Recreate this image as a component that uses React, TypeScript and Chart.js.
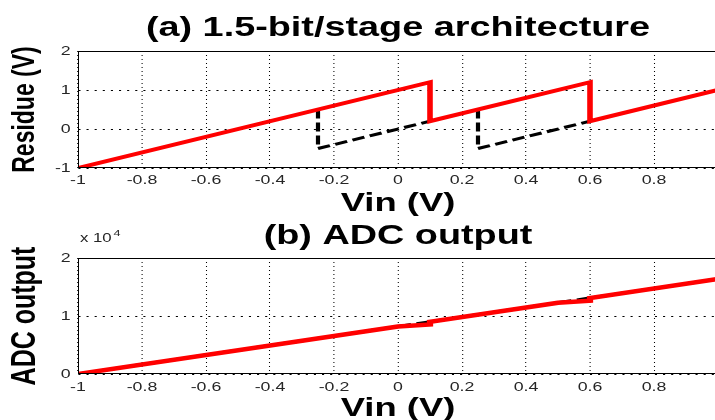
import React, { useEffect, useRef } from 'react';
import { Chart, registerables } from 'chart.js';

Chart.register(...registerables);

// ---------- data ----------
const xTickValues = [-1, -0.8, -0.6, -0.4, -0.2, 0, 0.2, 0.4, 0.6, 0.8, 1];
const xTickLabels = ['-1', '-0.8', '-0.6', '-0.4', '-0.2', '0', '0.2', '0.4', '0.6', '0.8', ''];

const residueYTickValues = [-1, 0, 1, 2];
const residueYTickLabels = ['-1', '0', '1', '2'];

// (a) red residue curve
const residueVin = [-1, 0.1, 0.1, 0.6, 0.6, 1];
const residueOut = [-1, 1.2, 0.2, 1.2, 0.2, 1];
// (a) black dashed residue segments
const altVinA = [-0.25, -0.25, 0.1];
const altOutA = [0.5, -0.5, 0.2];
const altVinB = [0.25, 0.25, 0.6];
const altOutB = [0.5, -0.5, 0.2];

const adcYTickValues = [0, 10000, 20000];
const adcYTickLabels = ['0', '1', '2'];
// (b) red ADC output
const adcVin = [-1, 0, 0.1, 0.1, 0.5, 0.6, 0.6, 1];
const adcCode = [0, 8192, 8550, 9011, 12288, 12650, 13107, 16384];
// (b) black ideal output
const idealVin = [-1, 1];
const idealCode = [0, 16384];

const exponentBase = 'x 10';
const exponentPower = '4';

// ---------- styling ----------
const SX = 1.4; // horizontal stretch of the original figure
const FAMILY = "'Liberation Sans', Arial, Helvetica, sans-serif";
const TICK_COLOR = '#262626';
const TICK_SIZE = 12.7;
Chart.defaults.font.family = FAMILY;

const pts = (xs: number[], ys: number[]) => xs.map((x, i) => ({ x, y: ys[i] }));

const boxPlugin = {
  id: 'plotBox',
  afterDatasetsDraw(chart: any) {
    const { ctx, chartArea } = chart;
    const { left, top, right, bottom } = chartArea;
    ctx.save();
    ctx.fillStyle = '#000';
    const ty = Math.round(top);
    const by = Math.round(bottom);
    ctx.fillRect(left, ty, right - left, 1);
    ctx.fillRect(left, by - 1, right - left, 1);
    const lx = Math.floor(left * SX) / SX;
    ctx.fillRect(lx, ty, 1 / SX, by - ty);
    const rx = Math.floor(right * SX) / SX;
    ctx.fillRect(rx - 1 / SX, ty, 1 / SX, by - ty);
    ctx.restore();
  },
};

const exponentPlugin = {
  id: 'exponent',
  afterDraw(chart: any) {
    const { ctx, chartArea } = chart;
    ctx.save();
    ctx.fillStyle = TICK_COLOR;
    ctx.textBaseline = 'alphabetic';
    ctx.textAlign = 'left';
    ctx.font = `12px ${FAMILY}`;
    const x0 = chartArea.left + 1.4;
    const y0 = chartArea.top - 16;
    ctx.fillText(exponentBase, x0, y0);
    const w = ctx.measureText(exponentBase).width;
    ctx.font = `9px ${FAMILY}`;
    ctx.fillText(exponentPower, x0 + w + 1.2, y0 - 6);
    ctx.restore();
  },
};

interface PanelSpec {
  cw: number;
  ch: number;
  title: string;
  titlePad: { top: number; bottom: number };
  yTitle: string;
  yTitleSize: number;
  yTitlePad: number;
  yMin: number;
  yMax: number;
  yTicks: number[];
  yLabels: string[];
  xHeight: number;
  xTickPad: number;
  xTitlePad: number;
  datasets: any[];
  plugins: any[];
}

function makeConfig(p: PanelSpec): any {
  const plotRight = 718 / SX;
  return {
    type: 'line',
    data: { datasets: p.datasets },
    plugins: p.plugins,
    options: {
      animation: false,
      responsive: false,
      events: [],
      layout: { padding: { left: 0, right: p.cw - plotRight, top: 0, bottom: 0 } },
      elements: { point: { radius: 0 }, line: { tension: 0 } },
      plugins: {
        legend: { display: false },
        tooltip: { enabled: false },
        title: {
          display: true,
          text: p.title,
          fullSize: false,
          color: '#000',
          font: { family: FAMILY, size: 27, weight: 'bold', lineHeight: 1.2 },
          padding: p.titlePad,
        },
      },
      scales: {
        x: {
          type: 'linear',
          min: -1,
          max: 1,
          afterBuildTicks: (s: any) => {
            s.ticks = xTickValues.map((v) => ({ value: v }));
          },
          afterFit: (s: any) => {
            s.height = p.xHeight;
          },
          ticks: {
            autoSkip: false,
            maxRotation: 0,
            padding: p.xTickPad,
            color: TICK_COLOR,
            font: { family: FAMILY, size: TICK_SIZE, lineHeight: 1.2 },
            callback: (_v: any, i: number) => xTickLabels[i],
          },
          grid: { color: '#000', lineWidth: 0.75, drawTicks: false, borderDash: [1, 3] },
          border: { display: false, dash: [1, 3] },
          title: {
            display: true,
            text: 'Vin (V)',
            color: '#000',
            font: { family: FAMILY, size: 26, weight: 'bold', lineHeight: 1.2 },
            padding: { top: 0, bottom: p.xTitlePad },
          },
        },
        y: {
          type: 'linear',
          min: p.yMin,
          max: p.yMax,
          afterBuildTicks: (s: any) => {
            s.ticks = p.yTicks.map((v) => ({ value: v }));
          },
          afterFit: (s: any) => {
            s.width = 78 / SX;
          },
          ticks: {
            padding: 5.2,
            color: TICK_COLOR,
            font: { family: FAMILY, size: TICK_SIZE, lineHeight: 1.2 },
            callback: (_v: any, i: number) => p.yLabels[i],
          },
          grid: { color: '#000', lineWidth: 1, drawTicks: false, borderDash: [1.5, 4.3] },
          border: { display: false, dash: [1.5, 4.3] },
          title: {
            display: true,
            text: p.yTitle,
            color: '#000',
            font: { family: FAMILY, size: p.yTitleSize, weight: 'bold', lineHeight: 1.2 },
            padding: { top: p.yTitlePad, bottom: 0 },
          },
        },
      },
    },
  };
}

function Panel({ spec, top }: { spec: PanelSpec; top: number }) {
  const ref = useRef<HTMLCanvasElement | null>(null);
  useEffect(() => {
    const canvas = ref.current;
    if (!canvas) return;
    const chart = new Chart(canvas, makeConfig(spec));
    // stretch horizontally like the original figure
    canvas.width = Math.round(spec.cw * SX);
    canvas.height = spec.ch;
    canvas.style.width = `${Math.round(spec.cw * SX)}px`;
    canvas.style.height = `${spec.ch}px`;
    const ctx = canvas.getContext('2d');
    if (ctx) {
      ctx.setTransform(SX, 0, 0, 1, 0, 0);
      chart.draw();
    }
    return () => chart.destroy();
  }, []);
  return (
    <canvas
      ref={ref}
      width={spec.cw}
      height={spec.ch}
      style={{ position: 'absolute', left: 0, top }}
    />
  );
}

const topSpec: PanelSpec = {
  cw: 520,
  ch: 220,
  title: '(a) 1.5-bit/stage architecture',
  titlePad: { top: 12.3, bottom: 6.3 },
  yTitle: 'Residue (V)',
  yTitleSize: 23,
  yTitlePad: 4,
  yMin: -1,
  yMax: 2,
  yTicks: residueYTickValues,
  yLabels: residueYTickLabels,
  xHeight: 52,
  xTickPad: 4.7,
  xTitlePad: 1,
  datasets: [
    {
      data: pts(residueVin, residueOut),
      borderColor: '#ff0000',
      borderWidth: 4,
      fill: false,
    },
    {
      data: pts(altVinA, altOutA),
      borderColor: '#000',
      borderWidth: 3,
      borderDash: [9, 4],
      fill: false,
    },
    {
      data: pts(altVinB, altOutB),
      borderColor: '#000',
      borderWidth: 3,
      borderDash: [9, 4],
      fill: false,
    },
  ],
  plugins: [boxPlugin],
};

const bottomSpec: PanelSpec = {
  cw: 520,
  ch: 215,
  title: '(b) ADC output',
  titlePad: { top: 5.1, bottom: 5.5 },
  yTitle: 'ADC output',
  yTitleSize: 25,
  yTitlePad: 2.9,
  yMin: 0,
  yMax: 20000,
  yTicks: adcYTickValues,
  yLabels: adcYTickLabels,
  xHeight: 56,
  xTickPad: 5.7,
  xTitlePad: 5.9,
  datasets: [
    {
      data: pts(adcVin, adcCode),
      borderColor: '#ff0000',
      borderWidth: 4.5,
      fill: false,
    },
    {
      data: pts(idealVin, idealCode),
      borderColor: '#000',
      borderWidth: 3,
      borderDash: [9, 4],
      fill: false,
    },
  ],
  plugins: [boxPlugin, exponentPlugin],
};

export default function App() {
  return (
    <div
      style={{
        position: 'absolute',
        left: 0,
        top: 0,
        width: 715,
        height: 420,
        overflow: 'hidden',
        background: '#fff',
      }}
    >
      <Panel spec={topSpec} top={0} />
      <Panel spec={bottomSpec} top={215} />
    </div>
  );
}
